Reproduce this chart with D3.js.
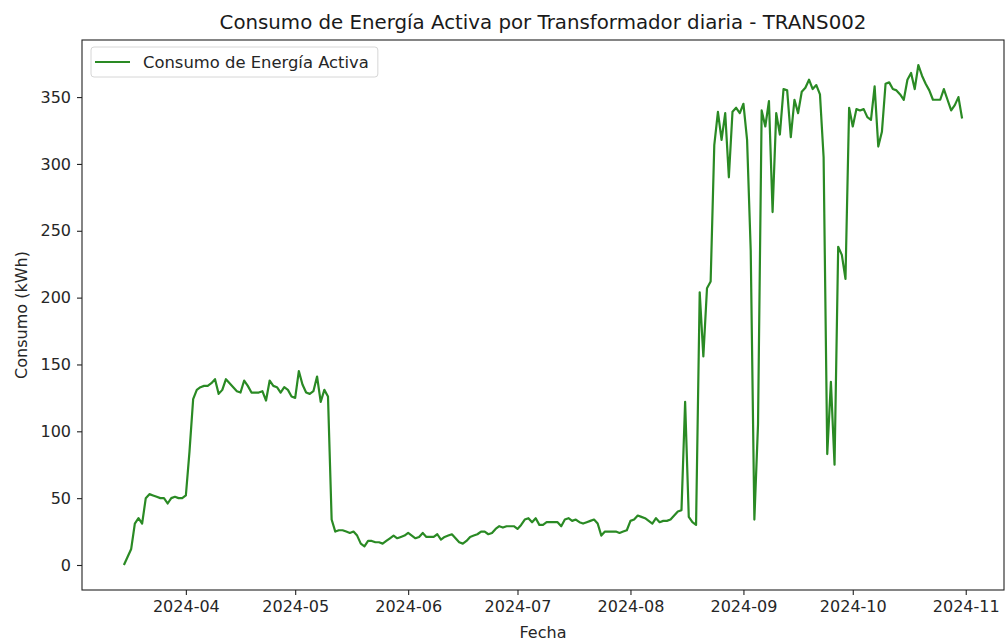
<!DOCTYPE html>
<html>
<head>
<meta charset="utf-8">
<script src="https://cdn.jsdelivr.net/npm/d3@7"></script>
<style>
  body { margin: 0; background: #fff; }
  svg { font-family: "DejaVu Sans", sans-serif; }
</style>
</head>
<body>
<div id="wrapper"></div>
<script>
// daily values per month (kWh), month start + index = day
const marchStart = "2024-03-15"
const marchValues = [0, 6, 12, 31, 35, 31, 50, 53, 52, 51, 50, 50, 46, 50, 51, 50, 50]
const aprilValues = [52, 85, 124, 131, 133, 134, 134, 136, 139, 128, 131, 139, 136, 133, 130,
  129, 138, 134, 129, 129, 129, 130, 123, 138, 134, 133, 129, 133, 131, 126]
const mayValues = [125, 145, 135, 129, 128, 130, 141, 122, 131, 126, 34, 25, 26, 26, 25,
  24, 25, 22, 16, 14, 18, 18, 17, 17, 16, 18, 20, 22, 20, 21, 22]
const juneValues = [24, 22, 20, 21, 24, 21, 21, 21, 23, 19, 21, 22, 23, 20, 17,
  16, 18, 21, 22, 23, 25, 25, 23, 24, 27, 29, 28, 29, 29, 29]
const julyValues = [27, 30, 34, 35, 32, 35, 30, 30, 32, 32, 32, 32, 29, 34, 35,
  33, 34, 32, 31, 32, 33, 34, 31, 22, 25, 25, 25, 25, 24, 25, 26]
const augustValues = [33, 34, 37, 36, 35, 33, 31, 35, 32, 33, 33, 34, 37, 40, 41,
  122, 36, 32, 30, 204, 156, 207, 212, 314, 339, 318, 338, 290, 339, 342, 338]
const septemberValues = [345, 318, 235, 34, 105, 340, 328, 347, 264, 338, 322, 356, 355, 320, 348,
  338, 354, 357, 363, 356, 359, 352, 305, 83, 137, 75, 238, 232, 214, 342]
const octoberValues = [328, 341, 340, 341, 335, 333, 358, 313, 324, 360, 361, 356, 355, 352, 348,
  363, 368, 356, 374, 366, 360, 355, 348, 348, 348, 356, 348, 340, 344, 350, 334]

const months = [
  [marchStart, marchValues],
  ["2024-04-01", aprilValues],
  ["2024-05-01", mayValues],
  ["2024-06-01", juneValues],
  ["2024-07-01", julyValues],
  ["2024-08-01", augustValues],
  ["2024-09-01", septemberValues],
  ["2024-10-01", octoberValues],
]
const yTicks = [0, 50, 100, 150, 200, 250, 300, 350]
const xTickLabels = ["2024-04", "2024-05", "2024-06", "2024-07", "2024-08", "2024-09", "2024-10", "2024-11"]

const titleText = "Consumo de Energía Activa por Transformador diaria - TRANS002"
const seriesName = "Consumo de Energía Activa"

const parseDay = d3.utcParse("%Y-%m-%d")
const parseMonth = d3.utcParse("%Y-%m")

const dataset = months.flatMap(([start, values]) =>
  values.map((v, i) => ({ date: d3.utcDay.offset(parseDay(start), i), value: v })))

const xAccessor = d => d.date
const yAccessor = d => d.value

let dimensions = {
  width: 1005,
  height: 642,
  margin: { top: 40, right: 1, bottom: 52, left: 82 },
}
dimensions.boundedWidth = dimensions.width - dimensions.margin.left - dimensions.margin.right
dimensions.boundedHeight = dimensions.height - dimensions.margin.top - dimensions.margin.bottom

const wrapper = d3.select("#wrapper")
  .append("svg")
  .attr("width", dimensions.width)
  .attr("height", dimensions.height)

const bounds = wrapper.append("g")
  .attr("transform", `translate(${dimensions.margin.left}, ${dimensions.margin.top})`)

// matplotlib style 5% margins
const [x0, x1] = d3.extent(dataset, xAccessor)
const xPad = (x1 - x0) * 0.05
const xScaler = d3.scaleUtc()
  .domain([new Date(+x0 - xPad), new Date(+x1 + xPad)])
  .range([0, dimensions.boundedWidth])

const [y0, y1] = d3.extent(dataset, yAccessor)
const yPad = (y1 - y0) * 0.05
const yScaler = d3.scaleLinear()
  .domain([y0 - yPad, y1 + yPad])
  .range([dimensions.boundedHeight, 0])

const lineGenerator = d3.line()
  .x(d => xScaler(xAccessor(d)))
  .y(d => yScaler(yAccessor(d)))

bounds.append("path")
  .datum(dataset)
  .attr("d", lineGenerator)
  .attr("fill", "none")
  .attr("stroke", "#2a8a24")
  .attr("stroke-width", 2.2)
  .attr("stroke-linejoin", "round")

// axes
const xAxis = bounds.append("g")
  .attr("transform", `translate(0, ${dimensions.boundedHeight})`)
  .call(d3.axisBottom(xScaler)
    .tickValues(xTickLabels.map(parseMonth))
    .tickFormat(d3.utcFormat("%Y-%m"))
    .tickSize(5)
    .tickPadding(6))

const yAxis = bounds.append("g")
  .call(d3.axisLeft(yScaler)
    .tickValues(yTicks)
    .tickSize(5)
    .tickPadding(6))

for (const ax of [xAxis, yAxis]) {
  ax.select(".domain").remove()
  ax.selectAll(".tick line").attr("stroke", "#222").attr("stroke-width", 1.1)
  ax.selectAll(".tick text")
    .attr("fill", "#262626")
    .attr("font-size", "16px")
    .attr("font-family", "DejaVu Sans")
}

// frame
bounds.append("rect")
  .attr("width", dimensions.boundedWidth)
  .attr("height", dimensions.boundedHeight)
  .attr("fill", "none")
  .attr("stroke", "#222")
  .attr("stroke-width", 1.1)

// labels
wrapper.append("text")
  .attr("x", dimensions.margin.left + dimensions.boundedWidth / 2)
  .attr("y", 29)
  .attr("text-anchor", "middle")
  .attr("font-size", "19.8px")
  .attr("fill", "#1a1a1a")
  .text(titleText)

wrapper.append("text")
  .attr("x", dimensions.margin.left + dimensions.boundedWidth / 2)
  .attr("y", 638)
  .attr("text-anchor", "middle")
  .attr("font-size", "16px")
  .attr("fill", "#262626")
  .text("Fecha")

wrapper.append("text")
  .attr("transform", `translate(27, ${dimensions.margin.top + dimensions.boundedHeight / 2}) rotate(-90)`)
  .attr("text-anchor", "middle")
  .attr("font-size", "16px")
  .attr("fill", "#262626")
  .text("Consumo (kWh)")

// legend
const legend = bounds.append("g").attr("transform", "translate(9, 7)")
const legendText = legend.append("text")
  .attr("x", 52)
  .attr("y", 21)
  .attr("font-size", "16.4px")
  .attr("fill", "#262626")
  .text(seriesName)
const legendWidth = legendText.node().getComputedTextLength() + 52 + 9
legend.insert("rect", "text")
  .attr("width", legendWidth)
  .attr("height", 30)
  .attr("rx", 3)
  .attr("fill", "#fff")
  .attr("fill-opacity", 0.8)
  .attr("stroke", "#d6d6d6")
legend.append("line")
  .attr("x1", 4)
  .attr("x2", 39)
  .attr("y1", 15)
  .attr("y2", 15)
  .attr("stroke", "#2a8a24")
  .attr("stroke-width", 2.2)
</script>
</body>
</html>
